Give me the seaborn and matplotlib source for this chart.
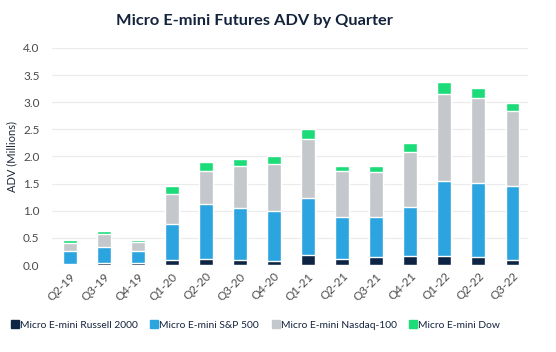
import matplotlib
matplotlib.use("Agg")
import matplotlib.pyplot as plt
import seaborn as sns
import pandas as pd
import numpy as np
from matplotlib.lines import Line2D

quarters = ["Q2-19", "Q3-19", "Q4-19", "Q1-20", "Q2-20", "Q3-20", "Q4-20", "Q1-21",
            "Q2-21", "Q3-21", "Q4-21", "Q1-22", "Q2-22", "Q3-22"]
russell = [0.02, 0.03, 0.03, 0.09, 0.11, 0.09, 0.08, 0.18, 0.12, 0.14, 0.16, 0.17, 0.14, 0.10]
sp500 = [0.24, 0.30, 0.22, 0.67, 1.02, 0.96, 0.91, 1.06, 0.77, 0.75, 0.91, 1.38, 1.38, 1.35]
nasdaq = [0.15, 0.24, 0.18, 0.54, 0.61, 0.78, 0.87, 1.08, 0.84, 0.82, 1.02, 1.60, 1.55, 1.38]
dow = [0.05, 0.05, 0.04, 0.15, 0.15, 0.12, 0.14, 0.18, 0.10, 0.12, 0.15, 0.23, 0.20, 0.15]

series_names = ["Micro E-mini Russell 2000", "Micro E-mini S&P 500",
                "Micro E-mini Nasdaq-100", "Micro E-mini Dow"]
colors = ["#0d2444", "#2ca4df", "#c4c8cc", "#1bdc78"]

sns.set_theme(style="white")
plt.rcParams["font.family"] = ["Lato", "DejaVu Sans"]

df = pd.DataFrame({"quarter": quarters, "r": russell, "s": sp500, "n": nasdaq, "d": dow})
df["c1"] = df["r"]
df["c2"] = df["c1"] + df["s"]
df["c3"] = df["c2"] + df["n"]
df["c4"] = df["c3"] + df["d"]

fig = plt.figure(figsize=(5.56, 3.52), dpi=100)
ax = fig.add_axes([0.0935, 0.247, 0.857, 0.617])

for col, color in zip(["c4", "c3", "c2", "c1"], colors[::-1]):
    sns.barplot(data=df, x="quarter", y=col, color=color, width=0.41,
                saturation=1, ax=ax, order=quarters, zorder=3)

ax.set_xlim(-0.53, len(quarters) - 0.53)
ax.set_ylim(0, 4.0)
ax.set_yticks(np.arange(0, 4.01, 0.5))
ax.set_yticklabels([f"{v:.1f}" for v in np.arange(0, 4.01, 0.5)])
ax.yaxis.grid(True, color="#ebebeb", linewidth=0.8, zorder=0)
ax.xaxis.grid(False)
for s in ax.spines.values():
    s.set_visible(False)
ax.tick_params(axis="both", length=0, labelsize=8.5, colors="#4a4a4a")
ax.tick_params(axis="y", pad=9)
ax.tick_params(axis="x", pad=4)
plt.setp(ax.get_xticklabels(), rotation=45, ha="right", rotation_mode="anchor")
ax.set_xlabel("")
ax.set_ylabel("ADV (Millions)", fontsize=8, color="#1e2a3a", labelpad=4)

fig.text(0.457, 0.94, "Micro E-mini Futures ADV by Quarter", ha="center", va="center",
         fontsize=11.8, fontweight="bold", color="#14233c")

handles = [Line2D([0], [0], marker="s", linestyle="", markersize=6,
                  markerfacecolor=c, markeredgecolor=c) for c in colors]
fig.legend(handles, series_names, loc="center left", bbox_to_anchor=(0.01, 0.076),
           ncol=4, frameon=False, fontsize=7.4, handletextpad=0.0,
           columnspacing=1.1, handlelength=1.0, labelcolor="#14233c",
           borderaxespad=0)

fig.savefig("out.png", dpi=100)
